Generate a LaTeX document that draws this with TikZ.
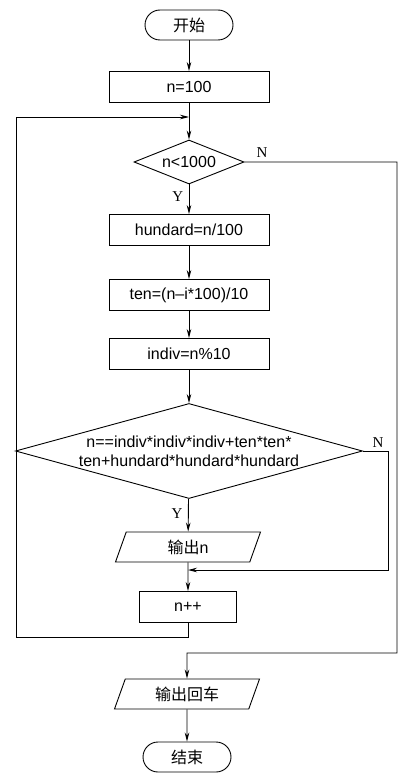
\documentclass[tikz,border=0pt]{standalone}
\usepackage{fontspec}
\setmainfont{Liberation Sans}
\newfontfamily\cjk{Noto Sans CJK SC}
\newfontfamily\ynfont{Liberation Serif}
\usetikzlibrary{shapes.geometric,arrows.meta}

\tikzset{
  every path/.style={line width=0.9pt},
  flow/.style={-{Stealth[length=9pt,width=4.5pt]}},
  term/.style={draw,rounded corners=15pt,minimum width=88pt,minimum height=30pt,inner sep=0pt,font=\cjk\fontsize{16}{18}\selectfont},
  procbox/.style={draw,minimum width=160pt,minimum height=31pt,inner sep=0pt,font=\fontsize{16}{18}\selectfont},
  iobox/.style={draw,trapezium,trapezium left angle=54,trapezium right angle=126,trapezium stretches body,minimum width=145pt,minimum height=30pt,inner sep=0pt,font=\fontsize{16}{18}\selectfont},
  cond/.style={draw,diamond,aspect=2.5,inner sep=0pt,font=\fontsize{16}{18}\selectfont},
  yn/.style={font=\ynfont\fontsize{15}{17}\selectfont}
}

\begin{document}
\begin{tikzpicture}[x=1pt,y=-1pt]
\useasboundingbox (0,0) rectangle (411,781);

\node[term] (start) at (189,25) {开始};
\node[procbox] (init) at (189,87) {n=100};
\node[cond,minimum width=110pt,minimum height=44pt] (test) at (189,162) {n<1000};
\node[procbox] (hund) at (189,230) {hundard=n/100};
\node[procbox] (ten) at (189,295) {ten=(n--i*100)/10};
\node[procbox] (indiv) at (189,354) {indiv=n\%10};
\node[cond,minimum width=347pt,minimum height=95pt,label={[align=center,font=\fontsize{16}{19}\selectfont]center:{n==indiv*indiv*indiv+ten*ten*\\ten+hundard*hundard*hundard}}] (check) at (189,451) {};
\node[iobox] (outn) at (188,547) {{\cjk 输出}n};
\node[procbox,minimum width=97pt] (inc) at (188,607) {n++};
\node[iobox] (outcr) at (187,694) {\cjk 输出回车};
\node[term] (stop) at (187,757) {结束};

\coordinate (loopin) at (189,117);
\coordinate (merge) at (188,570);

\draw[flow] (start) -- (init);
\draw[flow] (init) -- (test);
\draw[flow] (test) -- (hund) node[yn,pos=0.4,left=2pt] {Y};
\draw[flow] (hund) -- (ten);
\draw[flow] (ten) -- (indiv);
\draw[flow] (indiv) -- (check);
\draw[flow] (check) -- (outn) node[yn,pos=0.45,left=2pt] {Y};
\draw[flow] (outn) -- (inc);
\draw[flow] (inc.south) -- (188,637) -- (16,637) -- (16,117) -- (loopin);
\draw[flow] (check.east) -- (388,451) -- (388,570) -- (merge);
\draw[flow] (test.east) -- (397,162) -- (397,653) -- (187,653) -- (outcr.north);
\draw[flow] (outcr) -- (stop);
\node[yn] (ntest) at (262,153) {N};
\node[yn] (ncheck) at (378,443) {N};
\end{tikzpicture}
\end{document}
